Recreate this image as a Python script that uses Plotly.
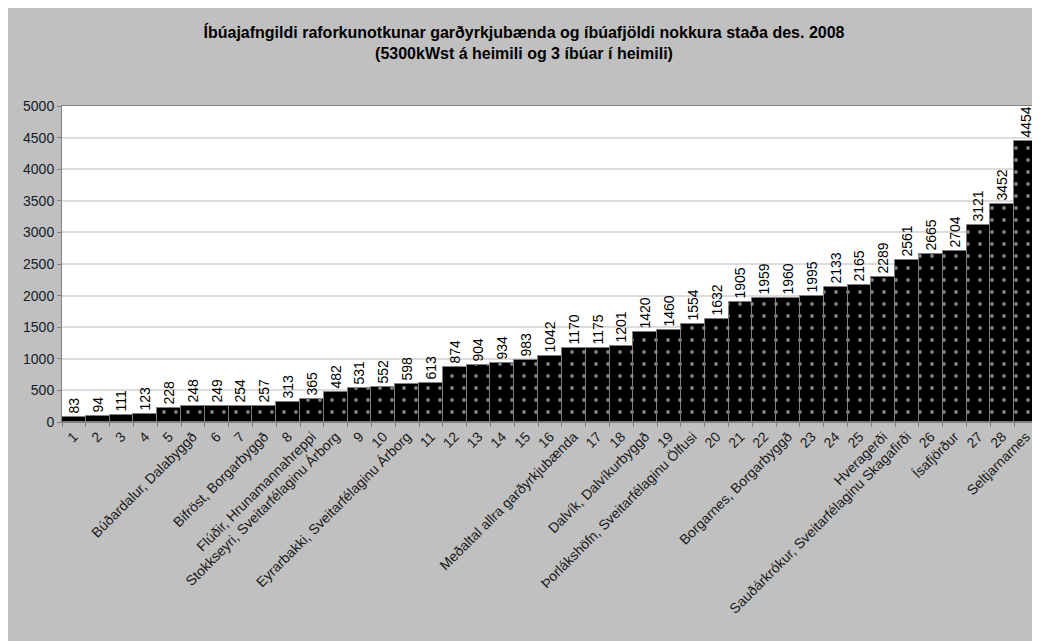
import plotly.graph_objects as go

categories = [
    "1", "2", "3", "4", "5", "Búðardalur, Dalabyggð", "6", "7",
    "Bifröst, Borgarbyggð", "8", "Flúðir, Hrunamannahreppi",
    "Stokkseyri, Sveitarfélaginu Árborg", "9", "10",
    "Eyrarbakki, Sveitarfélaginu Árborg", "11", "12", "13", "14", "15", "16",
    "Meðaltal allra garðyrkjubænda", "17", "18", "Dalvík, Dalvíkurbyggð", "19",
    "Þorlákshöfn, Sveitarfélaginu Ölfusi", "20", "21", "22",
    "Borgarnes, Borgarbyggð", "23", "24", "25", "Hveragerði",
    "Sauðárkrókur, Sveitarfélaginu Skagafirði", "26", "Ísafjörður", "27", "28",
    "Seltjarnarnes",
]
values = [
    83, 94, 111, 123, 228, 248, 249, 254, 257, 313, 365, 482, 531, 552, 598,
    613, 874, 904, 934, 983, 1042, 1170, 1175, 1201, 1420, 1460, 1554, 1632,
    1905, 1959, 1960, 1995, 2133, 2165, 2289, 2561, 2665, 2704, 3121, 3452,
    4454,
]
y_ticks = list(range(0, 5001, 500))

title_text = ("Íbúajafngildi raforkunotkunar garðyrkjubænda og íbúafjöldi nokkura staða des. 2008"
              "<br>(5300kWst á heimili og 3 íbúar í heimili)")

# page body has an 8px margin, so the figure is a little smaller than the window
W, H = 1032, 633
ML, MR, MT, MB = 54, 2, 98, 219
FONT = "Arial, Liberation Sans, sans-serif"

fig = go.Figure(
    go.Bar(
        x=categories,
        y=values,
        text=[str(v) for v in values],
        textposition="outside",
        textangle=-90,
        constraintext="none",
        cliponaxis=False,
        textfont=dict(family=FONT, size=14, color="#000000"),
        marker=dict(
            color="#000000",
            line=dict(color="#7f7f7f", width=1),
            pattern=dict(shape=".", bgcolor="#000000", fgcolor="#ffffff",
                         size=12, solidity=0.08),
        ),
        hoverinfo="x+y",
    )
)

fig.update_layout(
    width=W, height=H,
    margin=dict(l=ML, r=MR, t=MT, b=MB, autoexpand=False),
    paper_bgcolor="#c0c0c0",
    plot_bgcolor="#ffffff",
    bargap=0,
    showlegend=False,
    font=dict(family=FONT, color="#000000"),
    title=dict(
        text="<b>" + title_text + "</b>",
        x=0.5, xref="container", xanchor="center",
        y=1 - 30 / H, yref="container", yanchor="top",
        font=dict(family=FONT, size=16, color="#000000"),
    ),
    xaxis=dict(
        type="category",
        automargin=False,
        tickangle=-45,
        tickfont=dict(family=FONT, size=14, color="#1a1a1a"),
        showline=True, linecolor="#808080", linewidth=1,
        ticks="outside", ticklen=4, tickcolor="#808080",
        tickson="boundaries",
        showgrid=False,
        mirror=True,
    ),
    yaxis=dict(
        range=[0, 5000],
        automargin=False,
        tickvals=y_ticks,
        tickfont=dict(family=FONT, size=14, color="#1a1a1a"),
        showline=True, linecolor="#808080", linewidth=1,
        ticks="outside", ticklen=4, tickcolor="#808080",
        showgrid=True, gridcolor="#dcdcdc", gridwidth=1.5,
        zeroline=False,
        mirror=True,
    ),
)

fig.write_html("out.html")
